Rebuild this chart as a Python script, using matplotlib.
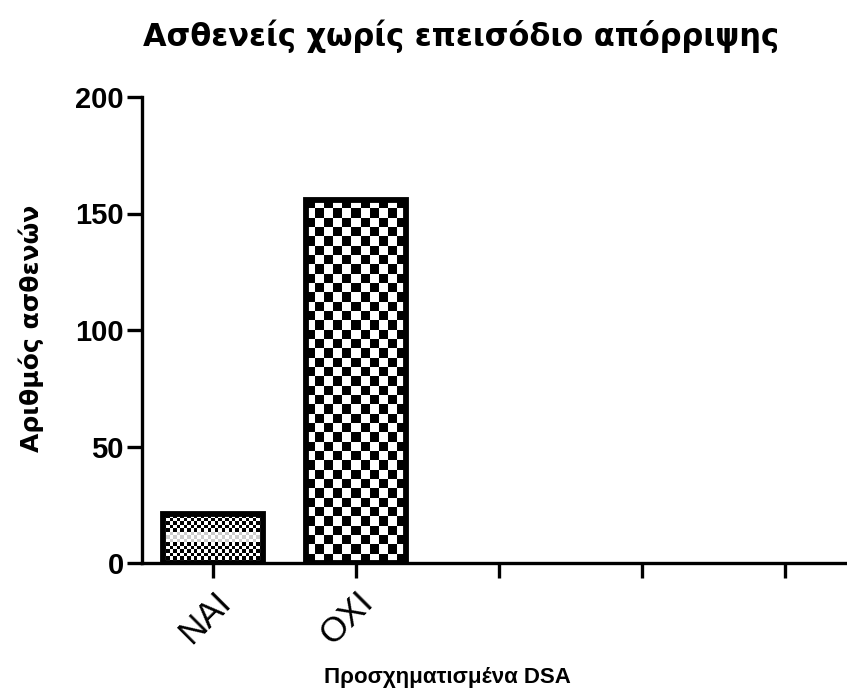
import numpy as np
import matplotlib
matplotlib.use("Agg")
import matplotlib.pyplot as plt

categories = ["ΝΑΙ", "ΟΧΙ", "", "", ""]
counts = [21, 156]
yticks = [0, 50, 100, 150, 200]

title = "Ασθενείς χωρίς επεισόδιο απόρριψης"
ylabel = "Αριθμός ασθενών"
xlabel = "Προσχηματισμένα DSA"

plt.rcParams["font.family"] = ["Liberation Sans", "DejaVu Sans"]

W, H = 847, 695
fig = plt.figure(figsize=(W / 100, H / 100), dpi=100)
left, right = 142 / W, 856 / W
bottom, top = (H - 563) / H, (H - 97) / H
ax = fig.add_axes([left, bottom, right - left, top - bottom])

pos = np.arange(len(categories))
bar_w = 0.7


def checker(nx, ny, band=None):
    yy, xx = np.mgrid[0:ny, 0:nx]
    img = ((xx + yy) % 2).astype(float)
    if band is not None:
        lo, hi = band
        rows = (yy >= lo) & (yy < hi)
        img[rows] = np.where(img[rows] > 0.5, 1.0, 0.8)
    return img


# pixel size of the checker cells for each bar
cell_px = [3.4, 9.3]
px_per_x = (right - left) * W / len(categories)
px_per_y = (top - bottom) * H / 200.0

for i, v in enumerate(counts):
    x0 = pos[i] - bar_w / 2
    rect = ax.bar(pos[i], v, width=bar_w, facecolor="none", edgecolor="black",
                  linewidth=4.2, zorder=3)[0]
    nx = int(round(bar_w * px_per_x / cell_px[i]))
    ny = int(round(v * px_per_y / cell_px[i]))
    band = (ny // 2 - 1, ny // 2 + 2) if i == 0 else None
    img = checker(nx, ny, band)
    im = ax.imshow(img, cmap="gray", vmin=0, vmax=1,
                   extent=(x0, x0 + bar_w, 0, v), aspect="auto",
                   interpolation="nearest", origin="lower", zorder=2)
    im.set_clip_path(rect)

ax.set_aspect("auto")
ax.set_xlim(-0.5, len(categories) - 0.5)
ax.set_ylim(0, 200)

for s in ["top", "right"]:
    ax.spines[s].set_visible(False)
for s in ["left", "bottom"]:
    ax.spines[s].set_linewidth(2.4)
ax.spines["bottom"].set_zorder(4)

ax.set_yticks(yticks)
ax.set_yticklabels([str(t) for t in yticks], fontsize=21, fontweight="bold")
ax.set_xticks(pos)
ax.set_xticklabels(categories, fontsize=25, rotation=45, ha="right", va="top",
                   rotation_mode="anchor")
ax.tick_params(axis="both", width=2.4, length=11, direction="out")
ax.tick_params(axis="y", pad=2)
ax.tick_params(axis="x", pad=5)

fig.text(461 / W, 1 - 36 / H, title, fontsize=22, fontweight="bold",
         family="DejaVu Sans", ha="center", va="center")
fig.text(31 / W, 1 - 328 / H, ylabel, fontsize=18, fontweight="bold",
         family="DejaVu Sans", rotation=90, ha="center", va="center")
fig.text(447 / W, 1 - 678 / H, xlabel, fontsize=16, fontweight="bold",
         ha="center", va="center")

fig.savefig("out.png", dpi=100)
